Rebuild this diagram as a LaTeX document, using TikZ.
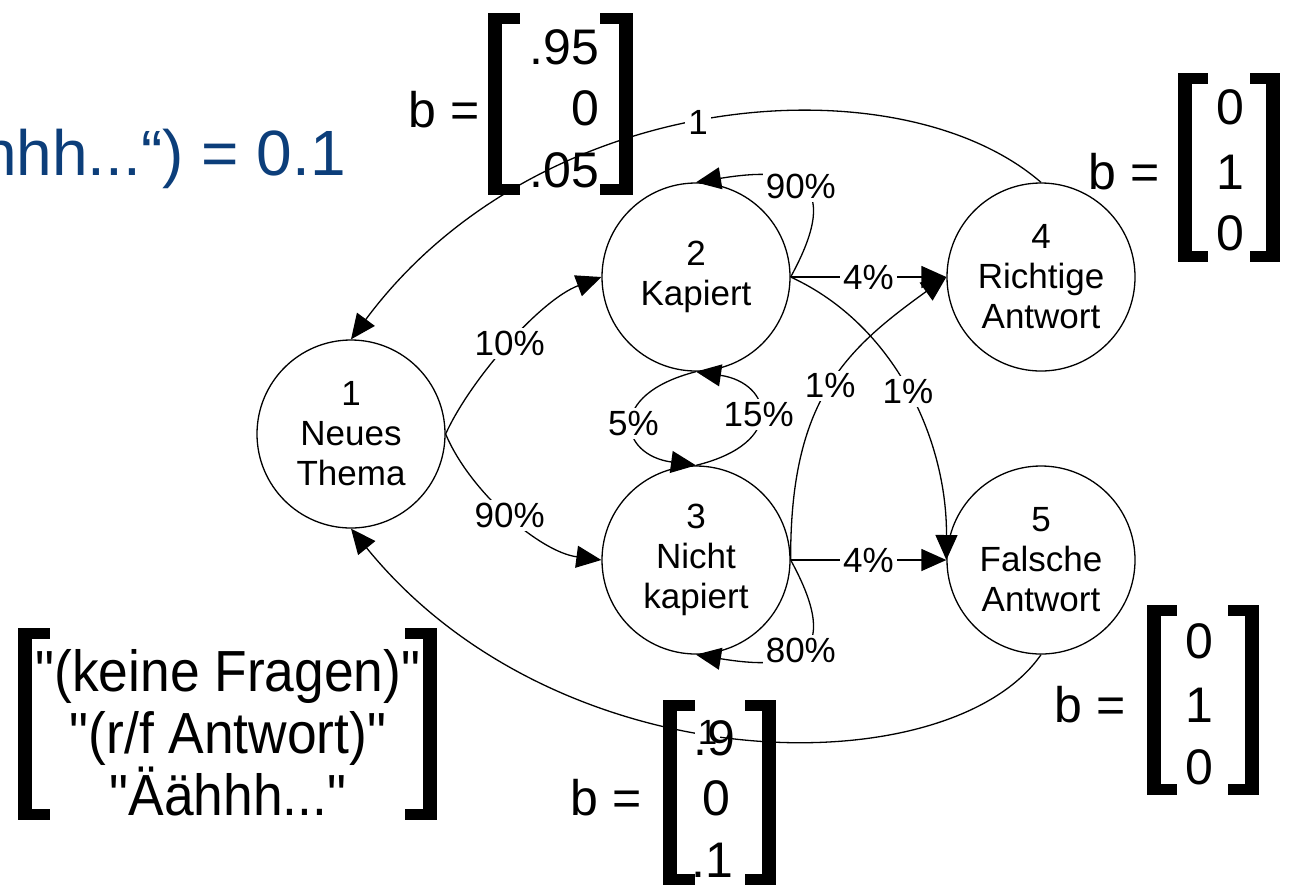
\documentclass[tikz,border=0pt]{standalone}
\usepackage{fontspec}
\setmainfont{Liberation Sans}[Ligatures=TeXOff]
\usetikzlibrary{arrows.meta}
\definecolor{titleblue}{RGB}{12,62,122}

% thick square brackets: outer x, top y, bottom y, serif end x
\newcommand\brackL[4]{%
  \fill (#1,-#2) rectangle (#1+14,-#3);
  \fill (#1,-#2) rectangle (#4,-#2-11);
  \fill (#1,-#3) rectangle (#4,-#3+11);}
\newcommand\brackR[4]{%
  \fill (#1,-#2) rectangle (#1-14,-#3);
  \fill (#1,-#2) rectangle (#4,-#2-11);
  \fill (#1,-#3) rectangle (#4,-#3+11);}

\begin{document}
\begin{tikzpicture}[x=1pt,y=1pt,
  state/.style={circle, draw, line width=1.3pt, minimum size=188pt,
    inner sep=0pt, align=center, font=\fontsize{35}{40}\selectfont},
  edge/.style={line width=1.3pt, -{Triangle[length=25pt,width=22pt]}},
  lbl/.style={fill=white, inner sep=3pt, font=\fontsize{35}{40}\selectfont},
  big/.style={inner sep=0pt, font=\fontsize{50}{62}\selectfont},
  title/.style={inner sep=0pt, text=titleblue, font=\fontsize{64}{70}\selectfont},
]
\useasboundingbox (0,0) rectangle (1289,-887);
\clip (0,0) rectangle (1289,-887);

% observation probability fragment
\node[title, anchor=base east] (ptext) at (346,-175) {P(„Äähhh...“) = 0.1};

% states
\node[state] (n1) at (351,-434) {1\\Neues\\Thema};
\node[state] (n2) at (696,-277) {2\\Kapiert};
\node[state] (n3) at (696,-560) {3\\Nicht\\kapiert};
\node[state] (n4) at (1041,-277) {4\\Richtige\\Antwort};
\node[state] (n5) at (1041,-560) {5\\Falsche\\Antwort};

% transitions
\draw[edge] (n1.east) .. controls (470,-380) and (540,-300) .. node[lbl,pos=0.5] (l12) {10\%} (n2.west);
\draw[edge] (n1.east) .. controls (470,-492) and (540,-552) .. node[lbl,pos=0.5] (l13) {90\%} (n3.west);
\draw[edge] (n2.east) .. controls (845,-178) and (795,-166) .. node[lbl,pos=0.5] (l22) {90\%} (n2.north);
\draw[edge] (n3.east) .. controls (845,-659) and (795,-671) .. node[lbl,pos=0.5] (l33) {80\%} (n3.south);
\draw[edge] (n2.east) -- node[lbl] (l24) {4\%} (n4.west);
\draw[edge] (n3.east) -- node[lbl] (l35) {4\%} (n5.west);
\draw[edge] (n2.east) .. controls (895,-325) and (947,-440) .. node[lbl,pos=0.5] (l25) {1\%} (n5.west);
\draw[edge] (n3.east) .. controls (790,-400) and (845,-350) .. node[lbl,pos=0.5] (l34) {1\%} (n4.west);
\draw[edge] (n2.south) .. controls (605,-395) and (620,-455) .. node[lbl,pos=0.5] (l23) {5\%} (n3.north);
\draw[edge] (n3.north) .. controls (787,-443) and (772,-383) .. node[lbl,pos=0.5] (l32) {15\%} (n2.south);
\draw[edge] (n4.north) .. controls (900,-60) and (540,-85) .. node[lbl,pos=0.52] (l41) {1} (n1.north);
\draw[edge] (n5.south) .. controls (950,-786) and (560,-786) .. node[lbl,pos=0.54] (l51) {1} (n1.south);

% emission vector of state 2
\node[big, anchor=east] (b2) at (480,-110) {b =};
\brackL{488}{13}{195}{520}
\brackR{633}{13}{195}{600}
\node[big, anchor=east] (b2a) at (599,-47) {.95};
\node[big, anchor=east] (b2b) at (599,-108) {0};
\node[big, anchor=east] (b2c) at (599,-170) {.05};

% emission vector of state 4
\node[big, anchor=east] (b4) at (1160,-172) {b =};
\brackL{1178}{73}{262}{1208}
\brackR{1280}{73}{262}{1250}
\node[big] (b4a) at (1230,-107) {0};
\node[big] (b4b) at (1230,-172) {1};
\node[big] (b4c) at (1230,-233) {0};

% emission vector of state 5
\node[big, anchor=east] (b5) at (1126,-705) {b =};
\brackL{1147}{605}{795}{1177}
\brackR{1259}{605}{795}{1228}
\node[big] (b5a) at (1199,-641) {0};
\node[big] (b5b) at (1199,-705) {1};
\node[big] (b5c) at (1199,-767) {0};

% emission vector of state 3
\node[big, anchor=east] (b3) at (642,-798) {b =};
\brackL{663}{700}{885}{695}
\brackR{776}{700}{885}{745}
\node[big] (b3a) at (714,-738) {.9};
\node[big] (b3b) at (716,-798) {0};
\node[big] (b3c) at (712,-860) {.1};

% observation alphabet
\brackL{18}{628}{820}{50}
\brackR{437}{628}{820}{405}
\node[big, align=center, font=\fontsize{58}{62}\selectfont, xscale=0.92] (obs) at (228,-733)
  {"(keine Fragen)"\\"(r/f Antwort)"\\"Äähhh..."};
\end{tikzpicture}
\end{document}
